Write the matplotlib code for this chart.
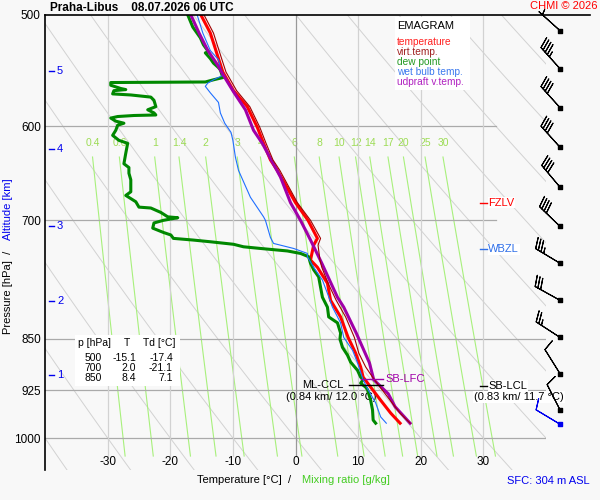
import numpy as np
import matplotlib.pyplot as plt
from matplotlib.patches import Rectangle
from matplotlib.ticker import NullLocator

plt.rcParams['font.family'] = ['Liberation Sans', 'DejaVu Sans']
plt.rcParams['font.size'] = 8

# ---- sounding (p in hPa, T in deg C) ----
t_p = [500, 515, 537, 549, 566, 581, 601, 617, 634, 645, 680, 700, 721, 729, 747,
       756, 776, 798, 820, 848, 870, 890, 905, 920, 940, 960, 976]
t_c = [-15.1, -13.6, -12.3, -11.6, -9.9, -7.7, -6.1, -5.1, -4.0, -2.9, 0.0, 2.0, 3.5,
       2.9, 2.4, 3.5, 5.1, 5.6, 7.2, 8.4, 9.6, 10.4, 10.8, 12.0, 13.6, 15.2, 16.7]

tv_p = [500, 515, 537, 549, 566, 581, 601, 617, 634, 645, 680, 700, 721, 729, 747,
        756, 776, 798, 820, 848, 870, 890, 905, 920, 940, 960, 976]
tv_c = [-14.6, -13.1, -11.8, -11.1, -9.4, -7.3, -5.7, -4.7, -3.6, -2.5, 0.3, 2.4, 4.0,
        3.6, 3.9, 4.2, 5.2, 6.5, 8.0, 9.4, 10.1, 11.2, 12.3, 13.5, 15.1, 16.7, 18.3]

td_p = [500, 510, 519, 525, 531, 532, 537, 541, 545, 547, 554, 556, 558, 558.5, 561,
        564, 565, 566, 569, 570, 572, 575, 581, 584, 587, 589, 589.5, 590.5, 592, 595,
        597, 599, 604, 609, 614, 617, 627, 638, 642, 648, 655, 668, 672, 679, 685, 686,
        691, 696, 697, 700, 703, 709, 714, 717, 721, 723, 725, 728, 731, 733, 736, 739,
        743, 751, 759, 768, 781, 794, 807, 820, 828, 842, 850, 862, 873, 883, 895, 905,
        909, 914, 920, 924, 940, 955, 971, 976]
td_c = [-17.2, -16.4, -15.2, -14.7, -13.9, -14.4, -13.6, -13.1, -12.3, -12.0, -11.6,
        -13.1, -14.4, -29.5, -29.5, -27.9, -27.1, -29.0, -29.2, -26.3, -23.1, -22.6,
        -22.3, -23.6, -22.6, -22.3, -25.8, -28.4, -29.5, -28.7, -27.4, -28.4, -28.7,
        -29.2, -28.2, -26.8, -27.1, -27.4, -26.6, -26.6, -26.3, -26.3, -27.1, -25.5,
        -25.0, -23.1, -21.5, -20.4, -18.8, -21.1, -22.6, -22.8, -21.1, -19.9, -19.5,
        -16.3, -13.6, -9.9, -8.3, -5.6, -1.3, 0.8, 2.1, 2.4, 2.9, 3.7, 4.0, 4.3, 5.1,
        5.3, 6.7, 7.2, 7.1, 7.5, 8.3, 8.8, 9.9, 10.4, 10.8, 10.4, 11.2, 11.5, 12.0,
        12.3, 12.4, 12.8]

tw_p = [500, 515, 530, 538, 545, 552, 556, 559, 562, 568, 577, 587, 597, 606, 614,
        631, 645, 674, 696, 700, 720, 727, 733, 739, 743, 756, 772, 789, 807, 828,
        848, 866, 884, 909, 924, 944, 966, 976]
tw_c = [-15.7, -14.8, -13.6, -12.3, -12.0, -11.6, -13.1, -14.0, -14.4, -13.6, -12.3,
        -12.0, -11.3, -10.3, -10.0, -9.6, -9.1, -7.2, -5.1, -4.8, -4.0, -3.5, -0.3,
        1.9, 1.9, 2.9, 4.3, 5.1, 5.9, 7.2, 7.7, 9.1, 9.9, 10.8, 11.6, 12.8, 13.6, 14.5]

pc_p = [500, 515, 530, 543, 552, 567, 584, 604, 617, 652, 680, 700, 723, 751,
        794, 807, 842, 884, 909, 930, 950, 976]
pc_c = [-16.7, -15.4, -14.0, -12.4, -11.5, -9.9, -8.0, -6.7, -5.3, -2.4, -0.8,
        0.8, 2.4, 4.2, 6.7, 7.7, 9.7, 11.8, 12.5, 14.8, 15.9, 18.3]

# wind (every 0.5 km) + surface
wind_p = [513, 546, 582, 621, 663, 707, 751, 798, 848, 900, 955]
wind_dir = [312, 318, 318, 318, 320, 314, 301, 299, 303, 328, 333]
wind_kt = [5, 45, 40, 40, 40, 40, 35, 30, 25, 10, 10]
sfc_p, sfc_dir, sfc_kt = 977, 301, 10

# altitude marks [km] and their pressure
alt_km = [1, 2, 3, 4, 5]
alt_p = [902, 799, 707, 623, 548]

# levels
fzlv_p, wbzl_p = 680, 734
lfc_p, ccl_p, lcl_p = 908, 917, 918

table_rows = [(500, -15.1, -17.4), (700, 2.0, -21.1), (850, 8.4, 7.1)]

p_ticks = [500, 600, 700, 850, 925, 1000]
t_ticks = [-30, -20, -10, 0, 10, 20, 30]
mix_w = [0.4, 0.6, 1, 1.4, 2, 3, 4, 6, 8, 10, 12, 14, 17, 20, 25, 30]
mix_lbl = ['0.4', '0.6', '1', '1.4', '2', '3', '4', '6', '8', '10', '12', '14',
           '17', '20', '25', '30']
theta_k = [233.15 + 10 * k for k in range(15)]

bg = '#f8f8f8'
P_BOT = 1053.8


def fpx(x, y):
    return x / 600, 1 - y / 500


fig = plt.figure(figsize=(6, 5), dpi=100, facecolor=bg)
ax = fig.add_axes([45 / 600, 30 / 500, 501 / 600, 455 / 500])
ax.set_facecolor(bg)
ax.set_yscale('log')
ax.set_xlim(-40, 40)
ax.set_ylim(P_BOT, 500)
ax.yaxis.set_minor_locator(NullLocator())
ax.set_yticks(p_ticks)
ax.set_yticklabels([str(p) for p in p_ticks])
ax.tick_params(axis='y', length=0, pad=3, labelsize=8.5)
ax.set_xticks([])
for s in ['right', 'bottom', 'top']:
    ax.spines[s].set_visible(False)
ax.spines['left'].set_linewidth(1.2)
ax.plot([0, 545 / 501], [1, 1], transform=ax.transAxes, color='k', lw=1.2,
        clip_on=False, zorder=6)

# dry adiabats
pp = np.linspace(500, P_BOT, 120)
for th in theta_k:
    ax.plot(th * (pp / 1000) ** 0.286 - 273.15, pp, color='#d2d2d2', lw=0.7, zorder=1)

# mixing ratio lines
pm = np.linspace(631, 1030, 60)
for w, lbl in zip(mix_w, mix_lbl):
    le = np.log(w * pm / (622 + w) / 6.112)
    tm = 243.5 * le / (17.67 - le)
    ax.plot(tm, pm, color='#a8f07c', lw=0.8, zorder=1.5)
    ax.text(tm[0], 617, lbl, ha='center', va='center', color='#9ddc55',
            fontsize=7.5, zorder=2)

# grid
for p in [600, 700]:
    ax.plot([-40, 32], [p, p], color='#aaaaaa', lw=0.9, zorder=2)
for p in [850, 925, 1000]:
    ax.plot([-40, 40], [p, p], color='#aaaaaa', lw=0.9, zorder=2)
for t in t_ticks:
    ax.plot([t, t], [500, 1030], color='#999999' if t == 0 else '#d2d2d2',
            lw=0.9, zorder=2)
    ax.text(t, 1040, str(t), ha='center', va='center', fontsize=8.5)

# profiles
ax.plot(tv_c, tv_p, color='#a00000', lw=0.8, zorder=4)
ax.plot(t_c, t_p, color='#ff0000', lw=2.2, zorder=3.5)
ax.plot(td_c, td_p, color='#008800', lw=2.2, zorder=3.6)
ax.plot(tw_c, tw_p, color='#1f6fff', lw=0.8, zorder=3.7)
ax.plot(pc_c, pc_p, color='#a000a8', lw=2.2, zorder=3.8)

# altitude marks
yt = ax.get_yaxis_transform()
for km, p in zip(alt_km, alt_p):
    ax.plot([0.008, 0.017], [p, p], transform=yt, color='#0000ee', lw=1, zorder=5)
    ax.text(0.024, p, str(km), transform=yt, color='#0000ee', ha='left',
            va='center', fontsize=8)

# levels annotations
box = dict(facecolor='white', edgecolor='none', pad=0.6)
ax.plot([29.5, 30.6], [fzlv_p, fzlv_p], color='#ff0000', lw=1, zorder=5)
ax.text(30.8, fzlv_p, 'FZLV', color='#ff0000', va='center', ha='left', bbox=box, fontsize=8)
ax.plot([29.5, 30.6], [wbzl_p, wbzl_p], color='#2f6fe8', lw=1, zorder=5)
ax.text(30.8, wbzl_p, 'WBZL', color='#2f6fe8', va='center', ha='left', bbox=box, fontsize=8)

ax.plot([10.4, 13.9], [lfc_p, lfc_p], color='#a000a8', lw=1, zorder=5)
ax.text(14.3, lfc_p, 'SB-LFC', color='#a000a8', va='center', ha='left', fontsize=8)
ax.plot([8.6, 13.9], [ccl_p, ccl_p], color='k', lw=1, zorder=5)
ax.text(4.3, ccl_p, 'ML-CCL', va='center', ha='center', fontsize=8)
ax.text(5.7, 935, '(0.84 km/ 12.0 \u00b0C)', va='center', ha='center', fontsize=8)
ax.plot([29.5, 30.6], [lcl_p, lcl_p], color='k', lw=1, zorder=5)
ax.text(30.8, lcl_p, 'SB-LCL', va='center', ha='left', bbox=box, fontsize=8)
ax.text(35.7, 935, '(0.83 km/ 11.7 \u00b0C)', va='center', ha='center', bbox=box,
        fontsize=8, zorder=7)

# legend box
ax.add_patch(Rectangle(fpx(395, 90), 75 / 600, 73 / 500, transform=fig.transFigure,
                       facecolor='white', edgecolor='none', zorder=5, clip_on=False))
fig.text(*fpx(397, 26), 'EMAGRAM', ha='left', va='center', fontsize=8)
leg = [('temperature', '#ff2020'), ('virt.temp.', '#a02020'), ('dew point', '#229922'),
       ('wet bulb temp.', '#3a78ee'), ('udpraft v.temp.', '#b020c0')]
for i, (name, col) in enumerate(leg):
    fig.text(*fpx(397, 42 + 10 * i), name, color=col, ha='left', va='center', fontsize=7.3)

# table
ax.add_patch(Rectangle(fpx(75, 386), 105 / 600, 51 / 500, transform=fig.transFigure,
                       facecolor='white', edgecolor='none', zorder=5, clip_on=False))
fig.text(*fpx(78, 343), 'p [hPa]', ha='left', va='center', fontsize=7.5)
fig.text(*fpx(127, 343), 'T', ha='center', va='center', fontsize=7.5)
fig.text(*fpx(143, 343), 'Td [\u00b0C]', ha='left', va='center', fontsize=7.5)
for i, (p, t, td) in enumerate(table_rows):
    yy = 358 + 10 * i
    fig.text(*fpx(102, yy), str(p), ha='right', va='center', fontsize=7.5)
    fig.text(*fpx(136, yy), '%.1f' % t, ha='right', va='center', fontsize=7.5)
    fig.text(*fpx(173, yy), '%.1f' % td, ha='right', va='center', fontsize=7.5)

# wind barbs
ax2 = fig.add_axes([546 / 600, 30 / 500, 54 / 600, 455 / 500])
ax2.set_yscale('log')
ax2.set_ylim(P_BOT, 500)
ax2.set_xlim(0, 1)
ax2.axis('off')
wd = np.radians(wind_dir)
u = -np.array(wind_kt) * np.sin(wd)
v = -np.array(wind_kt) * np.cos(wd)
xb = np.full(len(wind_p), 0.26)
bsz = dict(spacing=0.11, height=0.38)
bb = ax2.barbs(xb, wind_p, u, v, length=6.4, lw=0.8, color='k', sizes=bsz)
bb.set_clip_on(False)
ax2.scatter(xb, wind_p, marker='s', s=5, color='k', zorder=5)
ds = np.radians(sfc_dir)
bs = ax2.barbs([0.26], [sfc_p], [-sfc_kt * np.sin(ds)], [-sfc_kt * np.cos(ds)],
               length=6.4, lw=0.8, color='#0000ee', sizes=bsz)
bs.set_clip_on(False)
ax2.scatter([0.26], [sfc_p], marker='s', s=5, color='#0000ee', zorder=5)

# titles and axis labels
fig.text(*fpx(50, 8), 'Praha-Libus    08.07.2026 06 UTC', ha='left', va='center',
         fontsize=8.5, fontweight='bold')
fig.text(*fpx(597, 6), 'CHMI \u00a9 2026', ha='right', va='center', color='#ff0000',
         fontsize=8)
fig.text(*fpx(8, 334), 'Pressure [hPa]  /', rotation=90, ha='center', va='bottom',
         fontsize=8)
fig.text(*fpx(8, 240), 'Altitude [km]', rotation=90, ha='center', va='bottom',
         color='#0000ee', fontsize=8)
fig.text(*fpx(197, 480), 'Temperature [\u00b0C]  /', ha='left', va='center', fontsize=8)
fig.text(*fpx(302, 480), 'Mixing ratio [g/kg]', ha='left', va='center',
         color='#44cc22', fontsize=8)
fig.text(*fpx(590, 481), 'SFC: 304 m ASL', ha='right', va='center', color='#0000ee',
         fontsize=8)

fig.savefig('out.png', dpi=100, facecolor=bg)
